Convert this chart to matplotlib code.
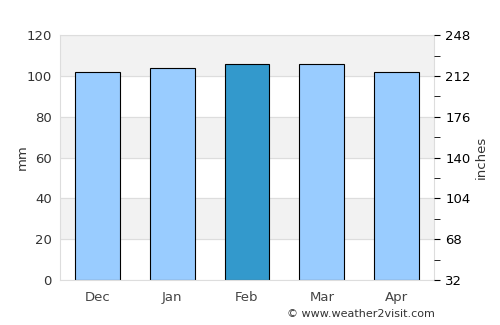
import matplotlib
matplotlib.use("Agg")
import matplotlib.pyplot as plt
import numpy as np

months = ["Dec", "Jan", "Feb", "Mar", "Apr"]
rain_mm = [102, 104, 106, 106, 102]
highlight = "Feb"
right_labels = ["32", "68", "104", "140", "176", "212", "248"]

fig = plt.figure(figsize=(5, 3.25), dpi=100)
ax = fig.add_axes([0.12, 0.138, 0.748, 0.754])

# alternating background bands
for lo in range(20, 120, 40):
    ax.axhspan(lo, lo + 20, color="#f2f2f2", zorder=0)
for y in range(0, 121, 20):
    ax.axhline(y, color="#dddddd", lw=0.8, zorder=0.5)

x = np.arange(len(months))
colors = ["#3399cc" if m == highlight else "#99ccff" for m in months]
ax.bar(x, rain_mm, width=0.6, color=colors, edgecolor="black", linewidth=0.8, zorder=2)

ax.set_xlim(-0.5, len(months) - 0.5)
ax.set_ylim(0, 120)
ax.set_yticks(range(0, 121, 20))
ax.set_xticks(x)
ax.set_xticklabels(months, color="#444444")
ax.tick_params(axis="both", length=0, labelsize=9.5, colors="#333333", pad=6)
ax.tick_params(axis="x", colors="#444444", pad=8)
ax.set_ylabel("mm", color="#333333", fontsize=9.5, labelpad=-2)
for s in ax.spines.values():
    s.set_color("#dddddd")

ax2 = ax.twinx()
ax2.set_ylim(0, 120)
ax2.set_yticks(range(0, 121, 20))
ax2.set_yticklabels(right_labels)
ax2.set_yticks(range(10, 120, 20), minor=True)
ax2.tick_params(axis="y", which="both", length=4, labelsize=9.5, colors="black", pad=4)
ax2.set_ylabel("inches", color="#333333", fontsize=9.5, labelpad=3)
for s in ax2.spines.values():
    s.set_visible(False)

fig.text(0.87, 0.025, "© www.weather2visit.com", ha="right", fontsize=8, color="#333333")

fig.savefig("out.png", dpi=100)
